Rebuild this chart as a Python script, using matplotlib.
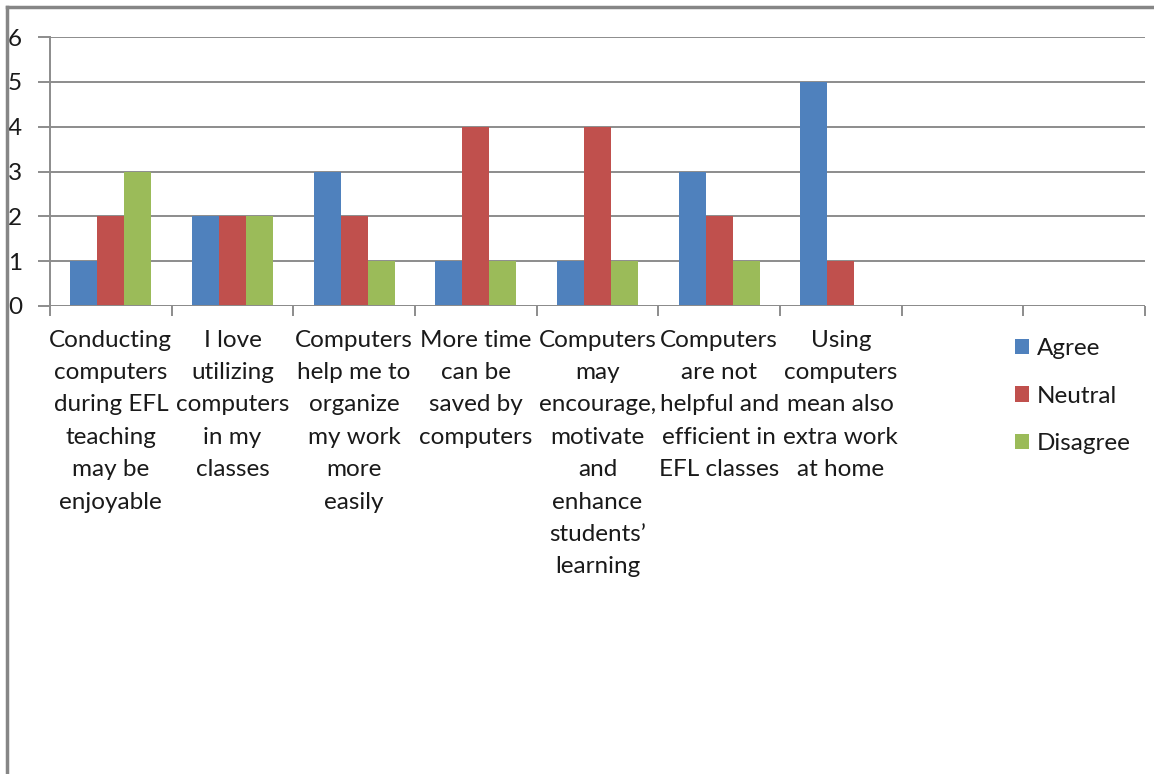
import matplotlib.pyplot as plt
import numpy as np
from matplotlib.lines import Line2D

categories = [
    "Conducting\ncomputers\nduring EFL\nteaching\nmay be\nenjoyable",
    "I love\nutilizing\ncomputers\nin my\nclasses",
    "Computers\nhelp me to\norganize\nmy work\nmore\neasily",
    "More time\ncan be\nsaved by\ncomputers",
    "Computers\nmay\nencourage,\nmotivate\nand\nenhance\nstudents\u2019\nlearning",
    "Computers\nare not\nhelpful and\nefficient in\nEFL classes",
    "Using\ncomputers\nmean also\nextra work\nat home",
    "",
    "",
]
agree = [1, 2, 3, 1, 1, 3, 5, 0, 0]
neutral = [2, 2, 2, 4, 4, 2, 1, 0, 0]
disagree = [3, 2, 1, 1, 1, 1, 0, 0, 0]

series = [("Agree", agree, "#4F81BD"),
          ("Neutral", neutral, "#C0504D"),
          ("Disagree", disagree, "#9BBB59")]

plt.rcParams['font.family'] = ['Lato', 'DejaVu Sans']
text_color = "#1a1a1a"
grid_color = "#8c8c8c"
fs = 17.5

fig = plt.figure(figsize=(11.54, 7.74), dpi=100)
ax = fig.add_axes([50 / 1154, 1 - 306 / 774, 1095 / 1154, 269 / 774])

x = np.arange(len(categories))
bar_w = 0.222
for i, (name, vals, color) in enumerate(series):
    ax.bar(x + (i - 1) * bar_w, vals, bar_w, color=color, label=name, zorder=3)

ax.set_xlim(-0.5, len(categories) - 0.5)
ax.set_ylim(0, 6)
ax.set_yticks(range(7))
ax.yaxis.grid(True, color=grid_color, linewidth=1.4, zorder=0)

for side in ["top", "right", "bottom"]:
    ax.spines[side].set_visible(False)
ax.spines["left"].set_color(grid_color)
ax.spines["left"].set_linewidth(1.4)
ax.axhline(0, color=grid_color, linewidth=1.4, zorder=4)

# category labels sit under each group, ticks at the group boundaries
ax.set_xticks(x)
ax.set_xticklabels(categories, fontsize=fs, color=text_color, linespacing=1.67)
ax.tick_params(axis="x", length=0, pad=17)
ax.set_xticks(np.arange(len(categories) + 1) - 0.5, minor=True)
ax.tick_params(axis="x", which="minor", length=7, width=1.4, color=grid_color)
ax.tick_params(axis="y", length=9, width=1.4, color=grid_color,
               labelsize=fs, labelcolor=text_color, pad=11)

fig.legend(loc="upper left", bbox_to_anchor=(993 / 1154, 1 - 316 / 774),
           frameon=False, fontsize=fs, handlelength=0.6, handleheight=0.6,
           handletextpad=0.3, labelspacing=1.1, labelcolor=text_color)

# outer chart frame
fig.add_artist(Line2D([7 / 1154, 7 / 1154], [0, 1 - 7 / 774],
                      transform=fig.transFigure, color="#868686", linewidth=2.5))
fig.add_artist(Line2D([7 / 1154, 1], [1 - 7 / 774, 1 - 7 / 774],
                      transform=fig.transFigure, color="#868686", linewidth=2.5))

fig.savefig("out.png", dpi=100)
